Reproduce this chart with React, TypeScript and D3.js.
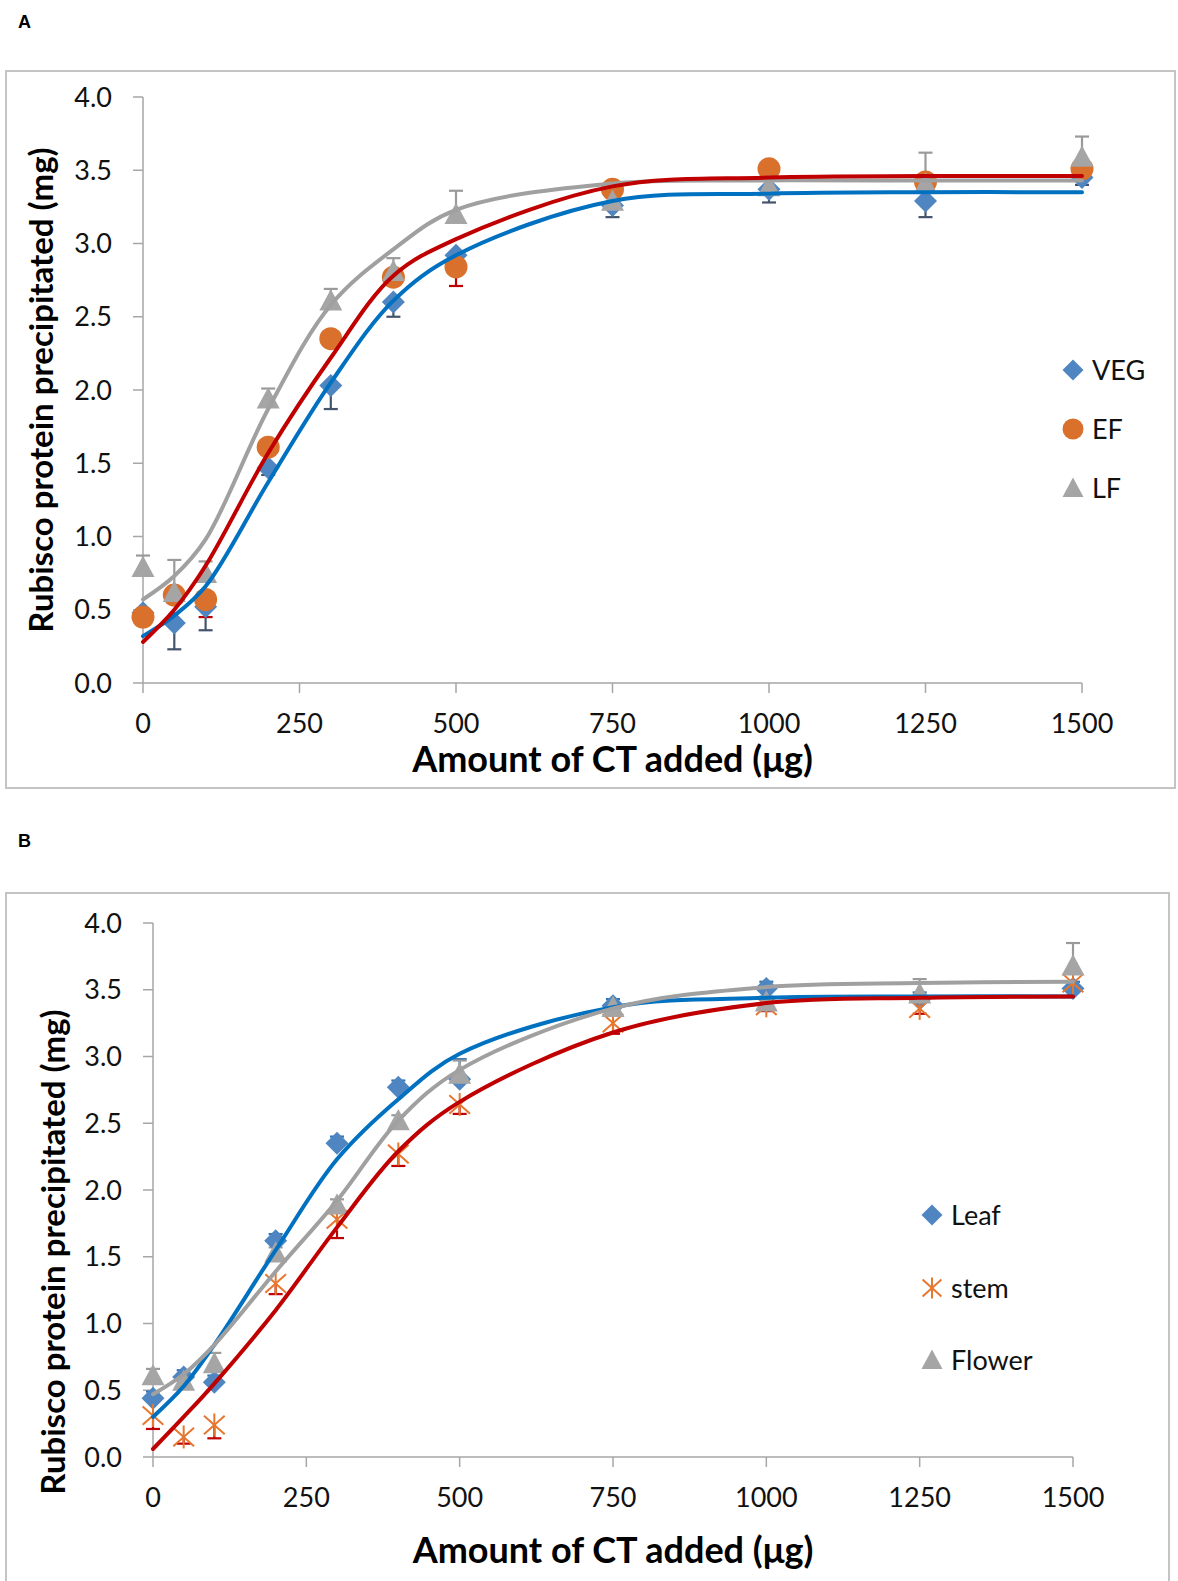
import React from "react";
import * as d3 from "d3";

// shared x positions (amount of CT, ug) and axis ticks
const doses = [0, 50, 100, 200, 300, 400, 500, 750, 1000, 1250, 1500];
const xTicks = [0, 250, 500, 750, 1000, 1250, 1500];
const yTicks = [0, 0.5, 1, 1.5, 2, 2.5, 3, 3.5, 4];

// panel A: growth stages
const vegMean = [0.48, 0.41, 0.52, 1.47, 2.03, 2.6, 2.92, 3.26, 3.37, 3.29, 3.45];
const vegErr = [0.05, 0.18, 0.16, 0.05, 0.16, 0.1, 0.04, 0.08, 0.09, 0.11, 0.05];
const vegFit = [0.32, 0.46, 0.66, 1.37, 2.05, 2.61, 2.92, 3.29, 3.34, 3.35, 3.35];

const efMean = [0.45, 0.6, 0.57, 1.61, 2.35, 2.77, 2.84, 3.37, 3.51, 3.42, 3.51];
const efErr = [0.04, 0.05, 0.12, 0.05, 0.05, 0.05, 0.13, 0.05, 0.05, 0.05, 0.05];
const efFit = [0.28, 0.5, 0.8, 1.57, 2.22, 2.78, 3.03, 3.39, 3.45, 3.46, 3.46];

const lfMean = [0.79, 0.62, 0.75, 1.94, 2.61, 2.81, 3.2, 3.29, 3.39, 3.41, 3.59];
const lfErr = [0.08, 0.22, 0.08, 0.07, 0.08, 0.09, 0.16, 0.05, 0.05, 0.21, 0.14];
const lfFit = [0.57, 0.73, 0.98, 1.87, 2.58, 2.96, 3.23, 3.41, 3.43, 3.43, 3.43];

// panel B: plant parts
const leafMean = [0.44, 0.6, 0.56, 1.62, 2.35, 2.77, 2.83, 3.38, 3.51, 3.43, 3.51];
const leafErr = [0.05, 0.05, 0.05, 0.05, 0.05, 0.05, 0.15, 0.05, 0.05, 0.05, 0.05];
const leafFit = [0.3, 0.53, 0.84, 1.55, 2.23, 2.68, 3.02, 3.37, 3.44, 3.45, 3.45];

const stemMean = [0.31, 0.15, 0.24, 1.3, 1.78, 2.27, 2.64, 3.25, 3.38, 3.36, 3.55];
const stemErr = [0.1, 0.05, 0.1, 0.08, 0.14, 0.09, 0.07, 0.08, 0.04, 0.04, 0.04];
const stemFit = [0.06, 0.3, 0.55, 1.1, 1.72, 2.29, 2.66, 3.18, 3.4, 3.44, 3.45];

const flowerMean = [0.61, 0.57, 0.7, 1.53, 1.89, 2.52, 2.87, 3.37, 3.41, 3.47, 3.68];
const flowerErr = [0.05, 0.04, 0.08, 0.04, 0.04, 0.04, 0.1, 0.04, 0.04, 0.11, 0.17];
const flowerFit = [0.47, 0.62, 0.84, 1.39, 1.92, 2.52, 2.9, 3.36, 3.52, 3.55, 3.56];

const FONT = "Lato, 'Open Sans', sans-serif";
const BLUE_LINE = "#0070C0";
const RED_LINE = "#C00000";
const GREY_LINE = "#A0A0A0";

const panelA = {
  letter: "A",
  letterY: 28,
  frame: { x0: 6, y0: 71, x1: 1175, y1: 788 },
  left: 143, right: 1082, top: 97, bottom: 683,
  xTitleY: 772,
  yTitleX: 53, yTitleY: 390,
  legendX: 1073, legendY: [370, 429, 488],
  series: [
    { name: "VEG", shape: "diamond", fill: "#4F86C2", errColor: "#44546A", dir: -1, mean: vegMean, err: vegErr, fit: vegFit, line: BLUE_LINE },
    { name: "EF", shape: "circle", fill: "#D9712D", errColor: "#C00000", dir: -1, mean: efMean, err: efErr, fit: efFit, line: RED_LINE },
    { name: "LF", shape: "triangle", fill: "#A5A5A5", errColor: "#9A9A9A", dir: 1, mean: lfMean, err: lfErr, fit: lfFit, line: GREY_LINE },
  ],
};

const panelB = {
  letter: "B",
  letterY: 847,
  frame: { x0: 6, y0: 893, x1: 1169, y1: 1600 },
  left: 153, right: 1073, top: 923, bottom: 1457,
  xTitleY: 1563,
  yTitleX: 65, yTitleY: 1252,
  legendX: 932, legendY: [1215, 1288, 1360],
  series: [
    { name: "Leaf", shape: "diamond", fill: "#4F86C2", errColor: "#2E75B6", dir: 1, mean: leafMean, err: leafErr, fit: leafFit, line: BLUE_LINE },
    { name: "stem", shape: "star", fill: "#E5772F", errColor: "#C00000", dir: -1, mean: stemMean, err: stemErr, fit: stemFit, line: RED_LINE },
    { name: "Flower", shape: "triangle", fill: "#A5A5A5", errColor: "#9A9A9A", dir: 1, mean: flowerMean, err: flowerErr, fit: flowerFit, line: GREY_LINE },
  ],
};

function Marker({ shape, cx, cy, s, color }) {
  const h = s / 2;
  if (shape === "diamond") {
    return <path d={`M${cx},${cy - h}L${cx + h},${cy}L${cx},${cy + h}L${cx - h},${cy}Z`} fill={color} />;
  }
  if (shape === "circle") {
    return <circle cx={cx} cy={cy} r={h} fill={color} />;
  }
  if (shape === "triangle") {
    return <path d={`M${cx},${cy - h}L${cx + h},${cy + h * 0.85}L${cx - h},${cy + h * 0.85}Z`} fill={color} />;
  }
  // excel "star": an X crossed by a vertical bar
  const w = h * 0.9;
  const v = h * 0.8;
  return (
    <g stroke={color} strokeWidth={2} fill="none">
      <line x1={cx - w} y1={cy - v} x2={cx + w} y2={cy + v} />
      <line x1={cx - w} y1={cy + v} x2={cx + w} y2={cy - v} />
      <line x1={cx} y1={cy - h} x2={cx} y2={cy + h} />
    </g>
  );
}

function Panel({ cfg }) {
  const x = d3.scaleLinear().domain([0, 1500]).range([cfg.left, cfg.right]);
  const y = d3.scaleLinear().domain([0, 4]).range([cfg.bottom, cfg.top]);
  const line = d3
    .line<number>()
    .x((_, i) => x(doses[i]))
    .y((d) => y(d))
    .curve(d3.curveCatmullRom.alpha(0.5));

  const axisColor = "#A6A6A6";
  const lineOrder = [0, 2, 1];

  return (
    <g>
      <text x={18} y={cfg.letterY} fontFamily="'Liberation Sans', Arial, sans-serif" fontWeight="bold" fontSize={18}>
        {cfg.letter}
      </text>
      <rect
        x={cfg.frame.x0}
        y={cfg.frame.y0}
        width={cfg.frame.x1 - cfg.frame.x0}
        height={cfg.frame.y1 - cfg.frame.y0}
        fill="white"
        stroke="#C4C4C4"
        strokeWidth={2}
      />

      {/* axes */}
      <g stroke={axisColor} strokeWidth={1.5}>
        <line x1={x(0)} y1={y(0)} x2={x(0)} y2={y(4)} />
        <line x1={x(0)} y1={y(0)} x2={x(1500)} y2={y(0)} />
        {yTicks.map((t) => (
          <line key={"yt" + t} x1={x(0) - 10} x2={x(0)} y1={y(t)} y2={y(t)} />
        ))}
        {xTicks.map((t) => (
          <line key={"xt" + t} x1={x(t)} x2={x(t)} y1={y(0)} y2={y(0) + 10} />
        ))}
      </g>
      <g fontFamily={FONT} fontSize={27} fill="#111">
        {yTicks.map((t) => (
          <text key={"yl" + t} x={x(0) - 31} y={y(t)} dy="0.36em" textAnchor="end">
            {t.toFixed(1)}
          </text>
        ))}
        {xTicks.map((t) => (
          <text key={"xl" + t} x={x(t)} y={y(0) + 50} textAnchor="middle">
            {t}
          </text>
        ))}
      </g>

      {/* error bars */}
      {cfg.series.map((s) => (
        <g key={"err" + s.name} stroke={s.errColor} strokeWidth={2.2}>
          {s.mean.map((m, i) => {
            const px = x(doses[i]);
            const end = y(m + s.dir * s.err[i]);
            return (
              <g key={i}>
                <line x1={px} x2={px} y1={y(m)} y2={end} />
                <line x1={px - 7} x2={px + 7} y1={end} y2={end} />
              </g>
            );
          })}
        </g>
      ))}

      {/* markers */}
      {cfg.series.map((s) => (
        <g key={"pts" + s.name}>
          {s.mean.map((m, i) => (
            <Marker key={i} shape={s.shape} cx={x(doses[i])} cy={y(m)} s={23} color={s.fill} />
          ))}
        </g>
      ))}

      {/* fitted curves */}
      {lineOrder.map((k) => (
        <path
          key={"fit" + k}
          d={line(cfg.series[k].fit) || ""}
          fill="none"
          stroke={cfg.series[k].line}
          strokeWidth={4}
          strokeLinecap="round"
        />
      ))}

      {/* legend */}
      {cfg.series.map((s, i) => (
        <g key={"lg" + s.name}>
          <Marker shape={s.shape} cx={cfg.legendX} cy={cfg.legendY[i]} s={21} color={s.fill} />
          <text x={cfg.legendX + 19} y={cfg.legendY[i]} dy="0.36em" fontFamily={FONT} fontSize={27} fill="#111">
            {s.name}
          </text>
        </g>
      ))}

      {/* axis titles */}
      <text
        x={(cfg.left + cfg.right) / 2}
        y={cfg.xTitleY}
        textAnchor="middle"
        fontFamily={FONT}
        fontWeight="bold"
        fontSize={36}
        fill="#000"
      >
        Amount of CT added (μg)
      </text>
      <text
        transform={`translate(${cfg.yTitleX},${cfg.yTitleY}) rotate(-90)`}
        textAnchor="middle"
        fontFamily={FONT}
        fontWeight="bold"
        fontSize={33}
        fill="#000"
      >
        Rubisco protein precipitated (mg)
      </text>
    </g>
  );
}

export default function App() {
  return (
    <svg
      width={1178}
      height={1581}
      viewBox="0 0 1178 1581"
      style={{ position: "absolute", left: 0, top: 0, background: "white" }}
    >
      <Panel cfg={panelA} />
      <Panel cfg={panelB} />
    </svg>
  );
}
